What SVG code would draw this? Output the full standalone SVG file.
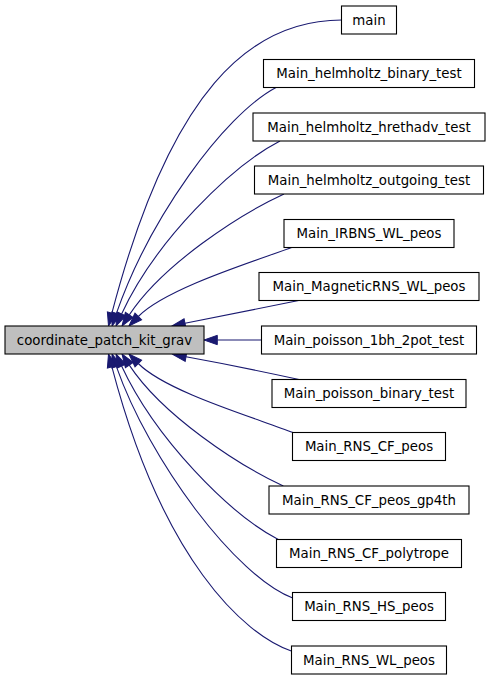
<svg xmlns="http://www.w3.org/2000/svg" width="491" height="680" viewBox="0 0 491 680">
<style>
.n rect{fill:#ffffff;stroke:#000000;stroke-width:1.1}
.n text{font-family:"DejaVu Sans",sans-serif;font-size:13.33px;fill:#000000;text-anchor:middle}
#n0 rect{fill:#bfbfbf}
.e path{fill:none;stroke:#191970;stroke-width:1.1;marker-end:url(#ah)}
</style>
<defs>
<marker id="ah" markerUnits="userSpaceOnUse" markerWidth="16" markerHeight="12" refX="0" refY="0" viewBox="-1 -6 16 12" orient="auto" overflow="visible">
<path d="M0,-4.67L13.3,0L0,4.67Z" fill="#191970" stroke="#191970" stroke-width="1"/>
</marker>
</defs>
<rect width="491" height="680" fill="#ffffff"/>
<g id="edges" class="e">
<path d="M342,20C250,20 170.3,90.7 111.9,313.1"/>
<path d="M276,87.5C223.2,115.7 149.4,219 116.4,313.4"/>
<path d="M280,141C231,166.3 155.2,241.3 121.6,313.9"/>
<path d="M284,194C238.5,215 162.3,264.8 129.3,314.9"/>
<path d="M293,247C255.5,261 166.3,288.1 138.3,316.5"/>
<path d="M300,300.3C260,308 220,316 185,323.3"/>
<path d="M262,340L217.3,340"/>
<path d="M299,379.5C260,371 220,363 186,356.8"/>
<path d="M293,432.5C256,418 166.3,391.9 138.3,363.5"/>
<path d="M283.3,486C238,465 162.3,415.2 129.3,365.1"/>
<path d="M278.3,539.5C229.4,514 155.2,438.7 121.6,366.1"/>
<path d="M292.7,598C236.3,576.7 149.4,461 116.4,366.6"/>
<path d="M291.3,651C243.8,634.5 162.7,560.3 111.9,366.9"/>
</g>
<g id="n0" class="n"><rect x="5" y="326" width="199" height="28"/><text x="104.5" y="344.5">coordinate_patch_kit_grav</text></g>
<g id="n1" class="n"><rect x="341.5" y="6" width="55" height="28"/><text x="369" y="24.5">main</text></g>
<g id="n2" class="n"><rect x="263.5" y="59.5" width="211" height="28"/><text x="369" y="78">Main_helmholtz_binary_test</text></g>
<g id="n3" class="n"><rect x="253" y="113" width="232" height="28"/><text x="369" y="131.5">Main_helmholtz_hrethadv_test</text></g>
<g id="n4" class="n"><rect x="254.5" y="166" width="229" height="28"/><text x="369" y="184.5">Main_helmholtz_outgoing_test</text></g>
<g id="n5" class="n"><rect x="284" y="219.5" width="170" height="28"/><text x="369" y="238">Main_IRBNS_WL_peos</text></g>
<g id="n6" class="n"><rect x="259" y="272.5" width="220" height="28"/><text x="369" y="291">Main_MagneticRNS_WL_peos</text></g>
<g id="n7" class="n"><rect x="261.5" y="326" width="215" height="28"/><text x="369" y="344.5">Main_poisson_1bh_2pot_test</text></g>
<g id="n8" class="n"><rect x="272" y="379.5" width="194" height="28"/><text x="369" y="398">Main_poisson_binary_test</text></g>
<g id="n9" class="n"><rect x="292.5" y="432.5" width="153" height="28"/><text x="369" y="451">Main_RNS_CF_peos</text></g>
<g id="n10" class="n"><rect x="269" y="486" width="200" height="28"/><text x="369" y="504.5">Main_RNS_CF_peos_gp4th</text></g>
<g id="n11" class="n"><rect x="276.5" y="539.5" width="185" height="28"/><text x="369" y="558">Main_RNS_CF_polytrope</text></g>
<g id="n12" class="n"><rect x="292.5" y="592.5" width="153" height="28"/><text x="369" y="611">Main_RNS_HS_peos</text></g>
<g id="n13" class="n"><rect x="291.5" y="646" width="155" height="28"/><text x="369" y="664.5">Main_RNS_WL_peos</text></g>
</svg>
